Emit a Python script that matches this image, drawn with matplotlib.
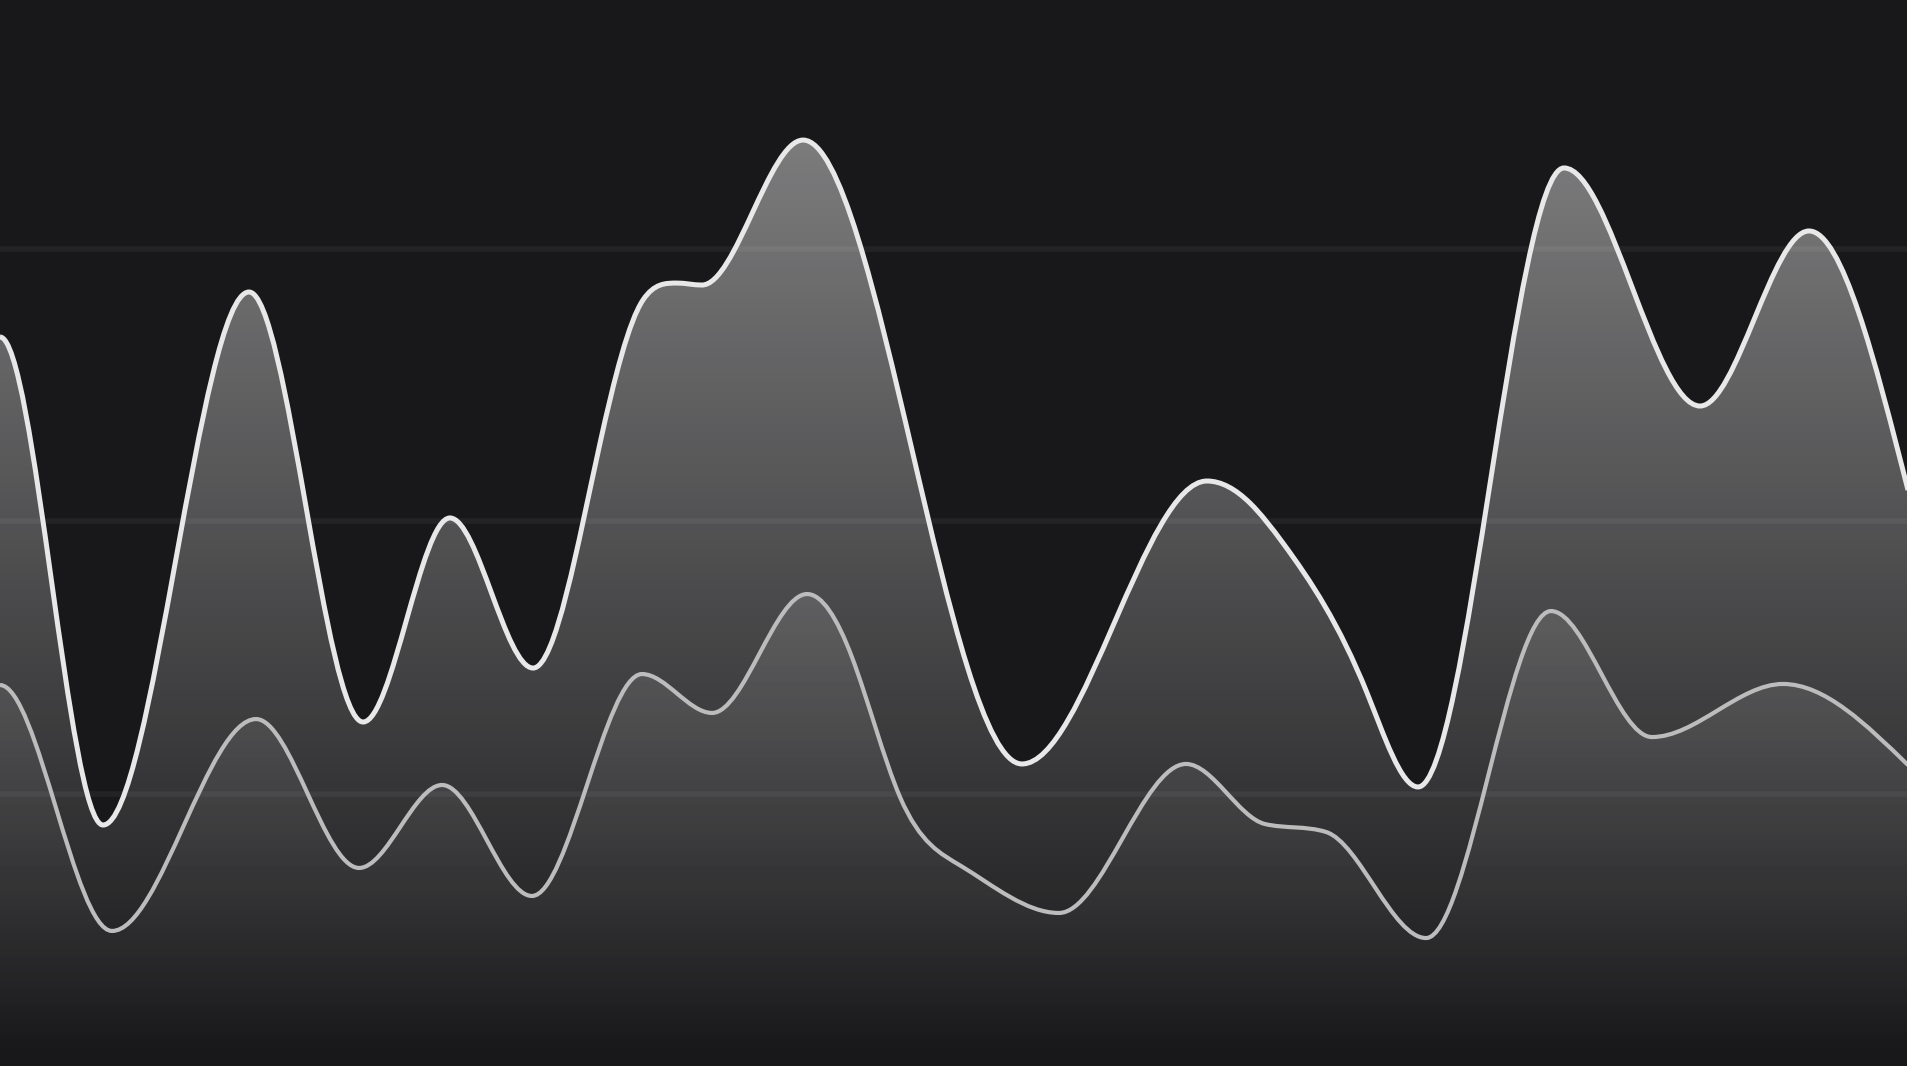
#! plot.py
# Two smooth area lines on a dark background, white gradient fills.

import numpy as np
from matplotlib import pyplot as plt
from matplotlib.path import Path
from matplotlib.patches import PathPatch

# time axis runs 0..100, values 0..~98 (grid at 25 / 50 / 75)
upper_x = [0.0, 5.40, 13.05, 19.03, 23.58, 27.94, 31.45, 33.70,
           35.48, 36.79, 42.09, 53.56, 63.26, 65.51, 67.24, 71.65, 74.32,
           81.97, 89.10, 94.81, 100.0]
upper_y = [66.88, 22.11, 71.01, 31.56, 50.28, 36.51, 57.16, 70.28,
           71.83, 71.65, 84.95, 27.71, 53.67, 51.65, 47.98, 34.22, 25.60,
           82.39, 60.55, 76.61, 52.84]

lower_x = [0.0, 5.87, 13.42, 18.82, 23.17, 27.88, 33.65, 37.32, 42.30, 44.65,
           47.17, 50.37, 55.50, 62.16, 66.30, 69.50, 74.74,
           81.29, 86.58, 93.45, 100.0]
lower_y = [34.95, 12.39, 31.83, 18.17, 25.78, 15.60, 35.96, 32.39, 43.30, 37.52,
           24.68, 18.35, 14.04, 27.71, 22.20, 21.47, 11.74,
           41.74, 30.18, 35.05, 27.61]

grid_values = [25, 50, 75]

BG = "#18181a"


def smooth_tangents(x, y, flat_start=False):
    # C2 spline between turning points (tangent 0 there),
    # then Fritsch-Carlson limiting so nothing overshoots
    x = np.asarray(x, float)
    y = np.asarray(y, float)
    n = len(x)
    h = np.diff(x)
    s = np.diff(y) / h
    A = np.zeros((n, n))
    b = np.zeros(n)
    for i in range(n):
        if (0 < i < n - 1 and s[i - 1] * s[i] <= 0) or (i == 0 and flat_start):
            A[i, i] = 1.0
        elif i == 0:
            A[0, 0], A[0, 1], b[0] = 2.0, 1.0, 3 * s[0]
        elif i == n - 1:
            A[i, i - 1], A[i, i], b[i] = 1.0, 2.0, 3 * s[-1]
        else:
            A[i, i - 1] = h[i]
            A[i, i] = 2 * (h[i - 1] + h[i])
            A[i, i + 1] = h[i - 1]
            b[i] = 3 * (h[i] * s[i - 1] + h[i - 1] * s[i])
    t = np.linalg.solve(A, b)
    for k in range(n - 1):
        if s[k] == 0:
            t[k] = t[k + 1] = 0.0
            continue
        a, c = t[k] / s[k], t[k + 1] / s[k]
        a, c = max(a, 0.0), max(c, 0.0)
        r = a * a + c * c
        if r > 9:
            tau = 3 / np.sqrt(r)
            a, c = a * tau, c * tau
        t[k], t[k + 1] = a * s[k], c * s[k]
    return t


def curve_path(x, y, closed=False):
    t = smooth_tangents(x, y, flat_start=True)
    verts = [(x[0], y[0])]
    codes = [Path.MOVETO]
    for i in range(len(x) - 1):
        d = (x[i + 1] - x[i]) / 3.0
        verts += [(x[i] + d, y[i] + t[i] * d),
                  (x[i + 1] - d, y[i + 1] - t[i + 1] * d),
                  (x[i + 1], y[i + 1])]
        codes += [Path.CURVE4] * 3
    if closed:
        verts += [(x[-1], 0), (x[0], 0), (x[0], y[0])]
        codes += [Path.LINETO, Path.LINETO, Path.CLOSEPOLY]
    return Path(verts, codes)


def gradient_area(ax, x, y, top_alpha, z):
    # white fill, alpha fading from top of the area down to zero
    patch = PathPatch(curve_path(x, y, closed=True), facecolor="none", edgecolor="none")
    ax.add_patch(patch)
    img = np.ones((256, 1, 4))
    img[:, 0, 3] = np.linspace(0, top_alpha, 256)
    im = ax.imshow(img, extent=(x[0], x[-1], 0, max(y)), origin="lower",
                   aspect="auto", interpolation="bilinear", zorder=z)
    im.set_clip_path(patch)


fig = plt.figure(figsize=(19.08, 10.66), dpi=100, facecolor=BG)
ax = fig.add_axes([0, 0, 1, 1])
ax.set_facecolor(BG)

gradient_area(ax, upper_x, upper_y, 0.435, 1)
gradient_area(ax, lower_x, lower_y, 0.12, 2)

for g in grid_values:
    ax.axhline(g, color="white", alpha=0.05, lw=4.0, zorder=3)

ax.add_patch(PathPatch(curve_path(upper_x, upper_y), facecolor="none",
                       edgecolor="#e8e8e8", lw=3.6, zorder=5))
ax.add_patch(PathPatch(curve_path(lower_x, lower_y), facecolor="none",
                       edgecolor="#bcbcbc", lw=3.0, zorder=4))

ax.set_xlim(0, 100)
ax.set_ylim(0, 97.8)
ax.axis("off")

fig.savefig("out.png", dpi=100, facecolor=BG)
